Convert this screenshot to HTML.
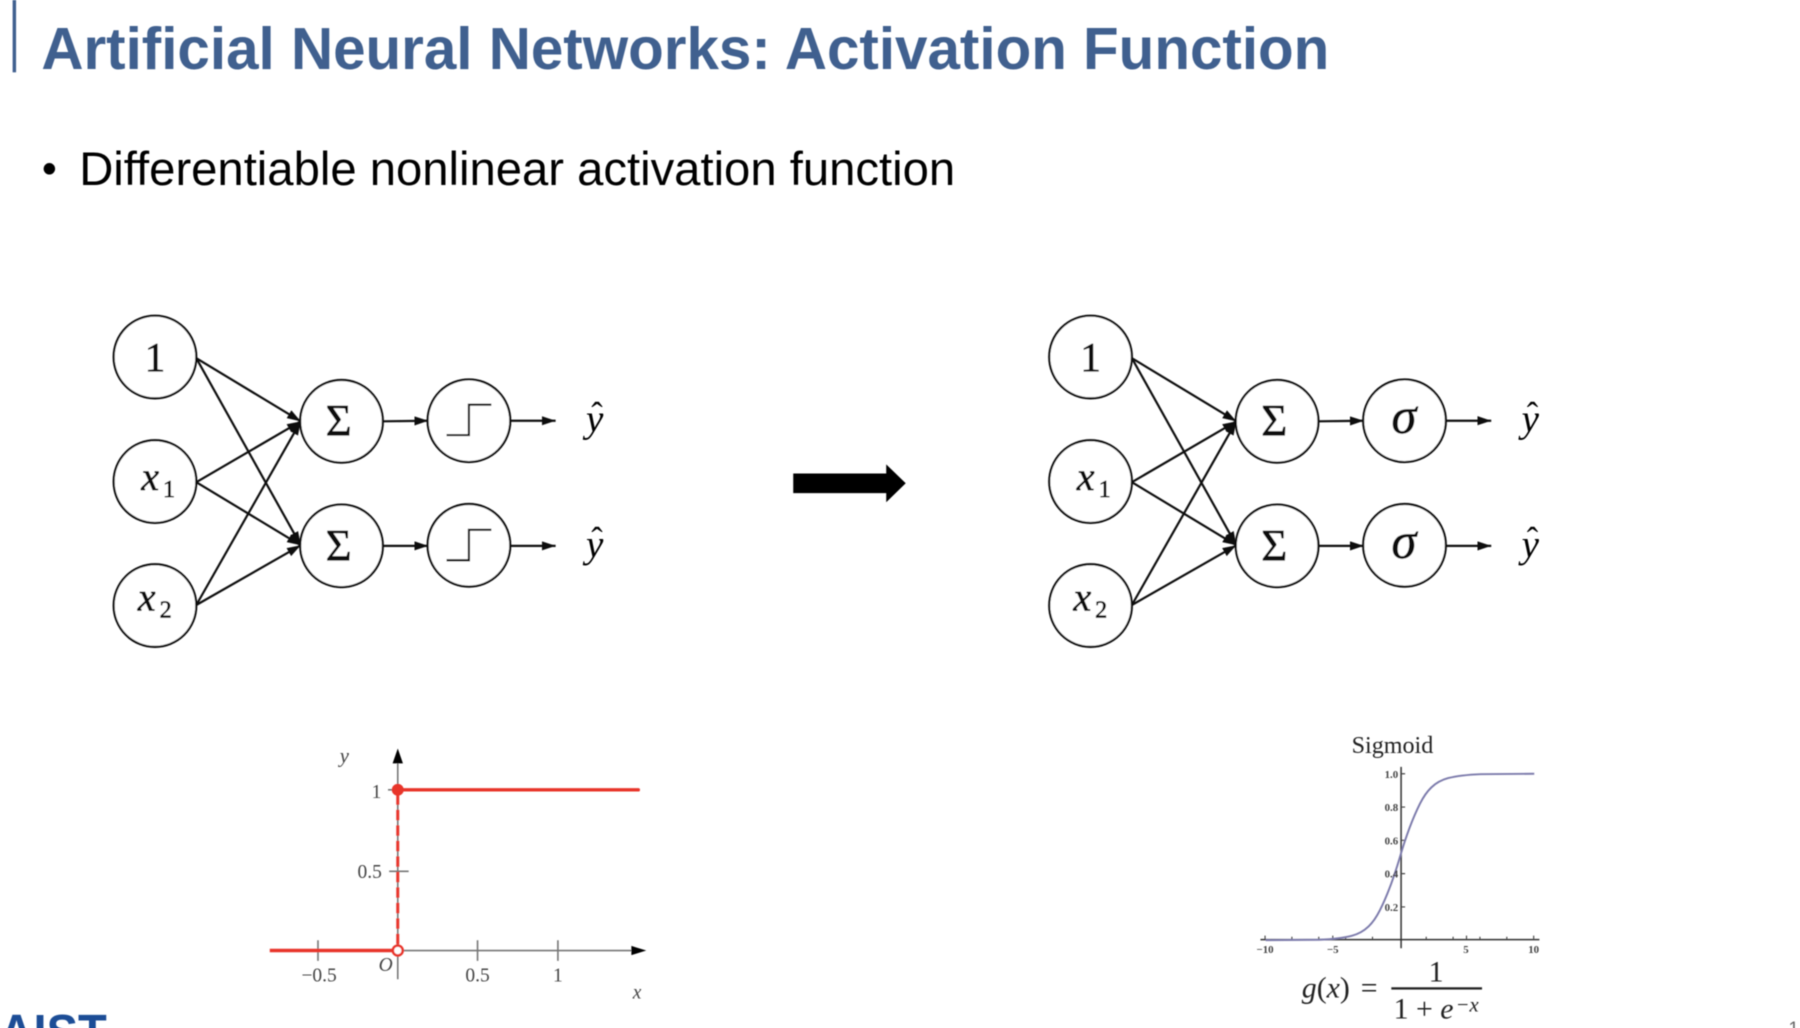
<!DOCTYPE html>
<html><head><meta charset="utf-8"><style>
html,body{margin:0;padding:0;background:#fff;width:1800px;height:1028px;overflow:hidden}
svg{display:block}
text{font-family:"Liberation Serif",serif}
.s{font-family:"Liberation Sans",sans-serif}
.i{font-style:italic}
.m{text-anchor:middle}
.h{stroke:#111;stroke-width:.6;fill:#111}
circle.n{fill:#fff;stroke:#111;stroke-width:1.9}
.l{stroke:#111;stroke-width:1.9;fill:none}
</style></head><body>
<svg width="1800" height="1028" viewBox="0 0 1568 895.47" xmlns="http://www.w3.org/2000/svg">
<defs>
<marker id="a" markerUnits="userSpaceOnUse" markerWidth="13" markerHeight="10" refX="12" refY="4" orient="auto"><path d="M0 0L12 4L0 8z" fill="#111"/></marker>
<filter id="b" x="-2%" y="-2%" width="104%" height="104%"><feGaussianBlur stdDeviation="0.4"/></filter>
</defs>
<rect x="0" y="0" width="1568" height="896" fill="#fff"/>
<g filter="url(#b)">
<rect x="11" y="0" width="3" height="63" fill="#41608f"/>
<text class="s" x="36" y="60" font-size="52" font-weight="bold" fill="#41608f" textLength="1122" lengthAdjust="spacingAndGlyphs">Artificial Neural Networks: Activation Function</text>
<circle cx="43" cy="147" r="5" fill="#000"/>
<text class="s" x="69" y="161" font-size="41" fill="#000" textLength="763" lengthAdjust="spacingAndGlyphs">Differentiable nonlinear activation function</text>

<!-- left network -->
<g class="l">
<path d="M171 312L262 367" marker-end="url(#a)"/><path d="M171 312L262 475" marker-end="url(#a)"/>
<path d="M171 420L262 367" marker-end="url(#a)"/><path d="M171 420L262 475" marker-end="url(#a)"/>
<path d="M171 527L262 367" marker-end="url(#a)"/><path d="M171 527L262 475" marker-end="url(#a)"/>
<path d="M334 367L373 366.5" marker-end="url(#a)"/><path d="M334 475.5L373 475.5" marker-end="url(#a)"/>
<path d="M445 366.5L484 366.5" marker-end="url(#a)"/><path d="M445 475.5L484 475.5" marker-end="url(#a)"/>
</g>
<circle class="n" cx="135" cy="311" r="36"/><circle class="n" cx="135" cy="419.5" r="36"/><circle class="n" cx="135" cy="527.5" r="36"/>
<circle class="n" cx="297.5" cy="367" r="36"/><circle class="n" cx="297.5" cy="475.5" r="36"/>
<circle class="n" cx="408.5" cy="366.5" r="36"/><circle class="n" cx="408.5" cy="475" r="36"/>
<path class="l" d="M389 379H408.5V352.5H428"/><path class="l" d="M389 488H408.5V461.5H428"/>
<text class="m h" x="135" y="323" font-size="36">1</text>
<text class="i h" x="123" y="427" font-size="35">x</text><text class="h" x="142" y="433" font-size="21">1</text>
<text class="i h" x="120" y="532" font-size="35">x</text><text class="h" x="139" y="538" font-size="21">2</text>
<text class="m h" x="295" y="379" font-size="39">Σ</text><text class="m h" x="295" y="488" font-size="39">Σ</text>
<text class="i m" x="518" y="376" font-size="34">y</text><text class="m" x="520" y="371" font-size="30">ˆ</text>
<text class="i m" x="518" y="485" font-size="34">y</text><text class="m" x="520" y="480" font-size="30">ˆ</text>

<!-- arrow -->
<path d="M691 412.5H772V404.5L789 421L772 437.5V429.5H691z" fill="#000"/>

<!-- right network -->
<g class="l">
<path d="M986 312L1077 367" marker-end="url(#a)"/><path d="M986 312L1077 475" marker-end="url(#a)"/>
<path d="M986 420L1077 367" marker-end="url(#a)"/><path d="M986 420L1077 475" marker-end="url(#a)"/>
<path d="M986 527L1077 367" marker-end="url(#a)"/><path d="M986 527L1077 475" marker-end="url(#a)"/>
<path d="M1149 367L1188 366.5" marker-end="url(#a)"/><path d="M1149 475.5L1188 475.5" marker-end="url(#a)"/>
<path d="M1260 366.5L1299 366.5" marker-end="url(#a)"/><path d="M1260 475.5L1299 475.5" marker-end="url(#a)"/>
</g>
<circle class="n" cx="950" cy="311" r="36"/><circle class="n" cx="950" cy="419.5" r="36"/><circle class="n" cx="950" cy="527.5" r="36"/>
<circle class="n" cx="1112.5" cy="367" r="36"/><circle class="n" cx="1112.5" cy="475.5" r="36"/>
<circle class="n" cx="1223.5" cy="366.5" r="36"/><circle class="n" cx="1223.5" cy="475" r="36"/>
<text class="m h" x="950" y="323" font-size="36">1</text>
<text class="i h" x="938" y="427" font-size="35">x</text><text class="h" x="957" y="433" font-size="21">1</text>
<text class="i h" x="935" y="532" font-size="35">x</text><text class="h" x="954" y="538" font-size="21">2</text>
<text class="m h" x="1110" y="379" font-size="39">Σ</text><text class="m h" x="1110" y="488" font-size="39">Σ</text>
<text class="i m h" x="1223" y="377" font-size="44">σ</text><text class="i m h" x="1223" y="486" font-size="44">σ</text>
<text class="i m" x="1333" y="376" font-size="34">y</text><text class="m" x="1335" y="371" font-size="30">ˆ</text>
<text class="i m" x="1333" y="485" font-size="34">y</text><text class="m" x="1335" y="480" font-size="30">ˆ</text>

<!-- step chart -->
<g stroke="#777" stroke-width="1.4" fill="none">
<path d="M346.5 853V660"/><path d="M240 828H555"/>
<path d="M277 819V837M416 819V837M486 819V837M339 759H356M338 688H346"/>
</g>
<path d="M346.5 652L342 665H351z" fill="#000"/><path d="M563 828L550 824V832z" fill="#000"/>
<path d="M235 828H342" stroke="#e8352b" stroke-width="3"/>
<path d="M346.5 688H556" stroke="#e8352b" stroke-width="3" stroke-linecap="round"/>
<path d="M346.5 692V824" stroke="#e8352b" stroke-width="2.6" stroke-dasharray="9 4.5"/>
<circle cx="346.5" cy="688" r="5.2" fill="#e8352b"/>
<circle cx="346.5" cy="828" r="4.3" fill="#fff" stroke="#e8352b" stroke-width="2.2"/>
<g fill="#444" font-size="17">
<text class="i m" x="300" y="664" font-size="18">y</text>
<text class="m" x="328" y="695">1</text>
<text class="m" x="322" y="765">0.5</text>
<text class="m" x="278" y="855">−0.5</text>
<text class="i m" x="336" y="846">O</text>
<text class="m" x="416" y="855">0.5</text>
<text class="m" x="486" y="855">1</text>
<text class="i m" x="555" y="870">x</text>
</g>

<!-- sigmoid chart -->
<text class="m" x="1213" y="656" font-size="21" fill="#222">Sigmoid</text>
<path d="M1220.5 668V826M1098 818.5H1341" stroke="#333" stroke-width="1.3" fill="none"/>
<path d="M1102 815V818.5M1125.4 816V818.5M1148.8 816V818.5M1161 815V818.5M1172.2 816V818.5M1195.6 816V818.5M1242.4 816V818.5M1265.8 816V818.5M1277.5 815V818.5M1289.2 816V818.5M1312.6 816V818.5M1336 815V818.5M1220.5 674H1224M1220.5 703H1224M1220.5 732H1224M1220.5 761H1224M1220.5 790H1224" stroke="#444" stroke-width="1" fill="none"/>
<path transform="translate(1219.5,819)" fill="none" stroke="#7d7bac" stroke-width="1.7" d="M-117 0L-70.2 -.4C-58 -.9 -50 -1.8 -42 -3.8C-30 -7 -23 -15 -17.5 -26C-12 -37 -6 -52 0 -72.5C6 -93 12 -108 17.5 -119C23 -130 30 -138 42 -141.2C50 -143.2 58 -144.1 70.2 -144.6L117 -145"/>
<g fill="#444" font-size="9.5" font-weight="bold">
<text x="1218" y="677.5" text-anchor="end">1.0</text><text x="1218" y="706.5" text-anchor="end">0.8</text><text x="1218" y="735.5" text-anchor="end">0.6</text><text x="1218" y="764.5" text-anchor="end">0.4</text><text x="1218" y="793.5" text-anchor="end">0.2</text>
<text class="m" x="1102" y="830">−10</text><text class="m" x="1161" y="830">−5</text><text class="m" x="1277" y="830">5</text><text class="m" x="1336" y="830">10</text>
</g>
<g fill="#222">
<text x="1134" y="869" font-size="26"><tspan class="i">g</tspan>(<tspan class="i">x</tspan>) <tspan dx="3">=</tspan></text>
<text class="m" x="1251" y="855" font-size="26">1</text>
<rect x="1212" y="860" width="79" height="2"/>
<text x="1214" y="887" font-size="26">1 + <tspan class="i">e</tspan></text>
<text class="i" x="1268" y="881" font-size="18">−x</text>
</g>

<!-- footer -->
<text class="s" x="-30" y="914" font-size="44" font-weight="bold" fill="#1f4e96" textLength="123" lengthAdjust="spacingAndGlyphs">KAIST</text>
<text class="s" x="1558" y="901" font-size="16" fill="#666">1</text>
</g>
</svg>
</body></html>
